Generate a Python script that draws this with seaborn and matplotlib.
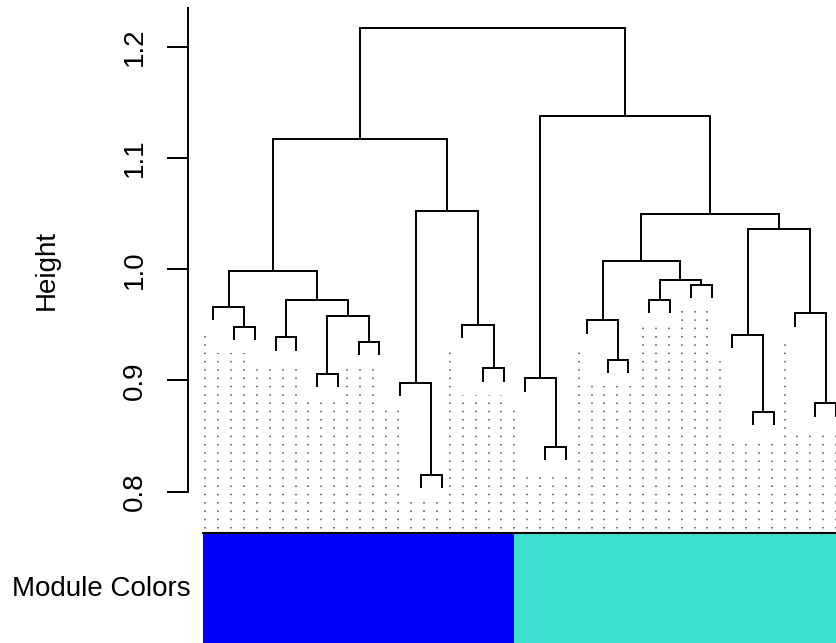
import numpy as np
import pandas as pd
import matplotlib
matplotlib.use("Agg")
import matplotlib.pyplot as plt
from matplotlib.colors import ListedColormap
import seaborn as sns

# ---- data -------------------------------------------------------------
# hclust-style merge table: negative entries are leaves (1-based),
# positive entries point at earlier merge rows (1-based)
merge_left = [-11, -17, -27, -30, -10, -16, -6, -14, -20, -8, -4, -26, -2, -13, -19,
              7, -29, -1, 11, -22, -24, 20, 18, 15, 12, 24, 5, 23, 6, 28]
merge_right = [-12, -18, -28, -31, 1, 2, -7, -15, -21, -9, -5, 3, -3, 8, 9,
               10, 4, 13, 16, -23, -25, 21, 19, 22, 17, 25, 14, 27, 26, 29]
merge_height = [0.8152, 0.8402, 0.8717, 0.8794, 0.8980, 0.9018, 0.9058, 0.9108,
                0.9184, 0.9346, 0.9389, 0.9413, 0.9484, 0.9501, 0.9540, 0.9580,
                0.9606, 0.9664, 0.9724, 0.9727, 0.9860, 0.9902, 0.9987, 1.0075,
                1.0365, 1.0497, 1.0524, 1.1169, 1.1379, 1.2170]
leaf_order = list(range(1, 32))
module_labels = ["blue"] * 15 + ["turquoise"] * 16
module_palette = {"blue": "#0000FF", "turquoise": "#40E0D0"}
y_ticks = [0.8, 0.9, 1.0, 1.1, 1.2]

# ---- style ------------------------------------------------------------
sns.set_style("white")
plt.rcParams["font.family"] = ["Liberation Sans", "DejaVu Sans"]
plt.rcParams["lines.scale_dashes"] = False
plt.rcParams["text.color"] = "black"
plt.rcParams["axes.labelcolor"] = "black"
plt.rcParams["ytick.color"] = "black"
plt.rcParams["ytick.labelcolor"] = "black"

W, H = 837, 643
fig = plt.figure(figsize=(W / 100, H / 100), dpi=100)

n_leaf = len(leaf_order)
x_lo, x_hi = -1.2, n_leaf + 0.2
y_lo, y_hi = 0.7633, 1.2347

# plot regions in pixels (left, right, top, bottom)
px_left, px_right = 188.4, 861.0
dend_top, dend_bot = 8.3, 532.5
bar_bot = 645.0

ax = fig.add_axes([px_left / W, (H - dend_bot) / H,
                   (px_right - px_left) / W, (dend_bot - dend_top) / H])
ax_col = fig.add_axes([px_left / W, (H - bar_bot) / H,
                       (px_right - px_left) / W, (bar_bot - dend_bot) / H])

# ---- dendrogram -------------------------------------------------------
pos = {leaf: i for i, leaf in enumerate(leaf_order)}
hang = 0.03 * (max(merge_height) - min(merge_height))
node_x = []
for l, r, h in zip(merge_left, merge_right, merge_height):
    def child(c):
        if c < 0:
            return pos[-c], h - hang
        return node_x[c - 1], merge_height[c - 1]
    xl, yl = child(l)
    xr, yr = child(r)
    ax.plot([xl, xl, xr, xr], [yl, h, h, yr], color="black", lw=1.4,
            solid_joinstyle="miter", solid_capstyle="butt")
    node_x.append((xl + xr) / 2)

# ---- dotted guide lines from the leaves down to the colour row ------------
guide_count = 50
guide_hang = 0.05
positions = np.arange(1, guide_count + 1) * n_leaf / guide_count
leaf_h = np.zeros(n_leaf + 1)
for l, r, h in zip(merge_left, merge_right, merge_height):
    for c in (l, r):
        if c < 0:
            leaf_h[-c] = h
leaf_h = np.maximum(leaf_h - guide_hang * (y_hi - y_lo), y_lo)
ordered_h = leaf_h[leaf_order]
fl = np.floor(positions).astype(int)
ce = np.ceil(positions).astype(int)
lower = ordered_h[fl[fl > 0] - 1]
upper = ordered_h[ce - 1]
lower = np.resize(lower, upper.shape)
guide_top = np.minimum(lower, upper)
for p, t in zip(positions - 1, guide_top):
    ax.plot([p, p], [y_lo, t], color="#4D4D4D", lw=1.1,
            linestyle=(3.48, (1.1, 4.88)), dash_capstyle="butt")

ax.set_xlim(x_lo, x_hi)
ax.set_ylim(y_lo, y_hi)
ax.set_xticks([])
ax.set_yticks(y_ticks)
ax.set_yticklabels([f"{t:.1f}" for t in y_ticks])
for side in ("top", "right", "bottom"):
    ax.spines[side].set_visible(False)
ax.spines["left"].set_bounds(0.8, y_hi)
ax.spines["left"].set_linewidth(1.4)
ax.spines["left"].set_color("black")
ax.tick_params(axis="y", left=True, length=15.1, width=1.4, color="black",
               labelcolor="black", pad=14.4, labelsize=20, labelrotation=90,
               direction="out")
for lbl in ax.get_yticklabels():
    lbl.set_va("center")
ax.set_ylabel("Height", fontsize=20, color="black")
ax.yaxis.set_label_coords(-0.1909, 0.5)
ax.patch.set_alpha(0)

# ---- module colour row ------------------------------------------------
names = list(module_palette)
codes = pd.DataFrame([[names.index(m) for m in module_labels]],
                     index=["Module Colors"])
sns.heatmap(codes, ax=ax_col, cmap=ListedColormap(list(module_palette.values())),
            vmin=0, vmax=1, cbar=False, xticklabels=False, yticklabels=False)
ax_col.set_xlim(x_lo + 0.5, x_hi + 0.5)
ax_col.plot([0, n_leaf], [0, 0], color="black", lw=1.5, clip_on=False)
ax_col.set_xlabel("")
ax_col.set_ylabel("")

fig.text(190.7 / W, 1 - 589 / H, "Module Colors", ha="right", va="center",
         fontsize=20, color="black")

fig.savefig("out.png", dpi=100)
